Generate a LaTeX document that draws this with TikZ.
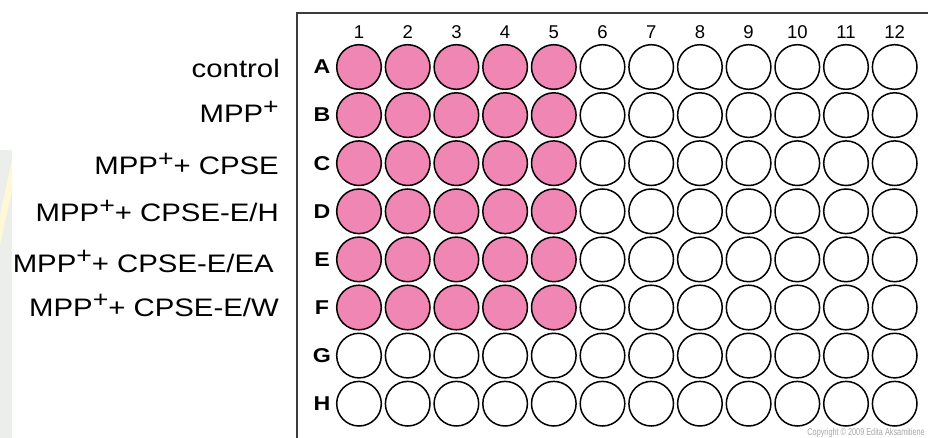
\documentclass[tikz,border=0pt]{standalone}
\usepackage{fontspec}
\setmainfont{Liberation Sans}
\newfontfamily\labfont[FakeStretch=1.16]{Liberation Sans}
\definecolor{wellpink}{RGB}{240,134,180}
\definecolor{framegray}{RGB}{60,60,60}
\definecolor{wmgray}{RGB}{236,238,236}
\definecolor{wmyellow}{RGB}{255,248,215}
\newcommand{\mppsup}{MPP\raisebox{8.5pt}{\fontsize{23}{23}\selectfont +}}
\begin{document}
\begin{tikzpicture}[x=1pt,y=-1pt,
  wellempty/.style={circle,draw=black,line width=1.5pt,fill=white,minimum size=44.6pt,inner sep=0pt},
  wellfull/.style={wellempty,fill=wellpink},
  colnum/.style={font=\fontsize{18.5}{18.5}\selectfont,inner sep=0pt},
  rowlet/.style={font=\labfont\fontsize{20}{20}\selectfont\bfseries,inner sep=0pt},
  cond/.style={font=\labfont\fontsize{25.3}{25.3}\selectfont,anchor=base east,inner sep=0pt},
  copy/.style={font=\fontsize{10}{10}\selectfont,text=black!35,anchor=base east,inner sep=0pt}]
\useasboundingbox (0,0) rectangle (928,438);
% faint watermark at the left edge
\fill[wmgray] (0,150) rectangle (12,438);
\fill[wmyellow] (0,215) -- (12,160) -- (12,190) -- (0,245) -- cycle;
% plate frame
\draw[framegray,line width=1.8pt] (930,13) -- (297,13) -- (297,440);
% column numbers
\foreach \c in {1,...,12} {
  \node[colnum] (n\c) at ({359+(\c-1)*48.7},32) {\c};
}
% row letters and wells
\foreach \l [count=\r] in {A,B,C,D,E,F,G,H} {
  \node[rowlet] (l\l) at (322,{67+(\r-1)*48.1}) {\l};
  \foreach \c in {1,...,12} {
    \pgfmathtruncatemacro{\pink}{(\r<7)&&(\c<6)}
    \ifnum\pink=1
      \node[wellfull] (w\l\c) at ({359+(\c-1)*48.7},{67+(\r-1)*48.1}) {};
    \else
      \node[wellempty] (w\l\c) at ({359+(\c-1)*48.7},{67+(\r-1)*48.1}) {};
    \fi
  }
}
% condition labels
\node[cond] (cA) at (280,78) {control};
\node[cond] (cB) at (279,123) {\mppsup};
\node[cond] (cC) at (279,175) {\mppsup+ CPSE};
\node[cond] (cD) at (279,222) {\mppsup+ CPSE-E/H};
\node[cond] (cE) at (274,272) {\mppsup+ CPSE-E/EA};
\node[cond] (cF) at (279,316) {\mppsup+ CPSE-E/W};
% copyright
\node[copy] (copy) at (925,435.5) {\scalebox{0.73}[1]{Copyright \textcopyright{} 2009 Edita Aksamitiene}};
\end{tikzpicture}
\end{document}
